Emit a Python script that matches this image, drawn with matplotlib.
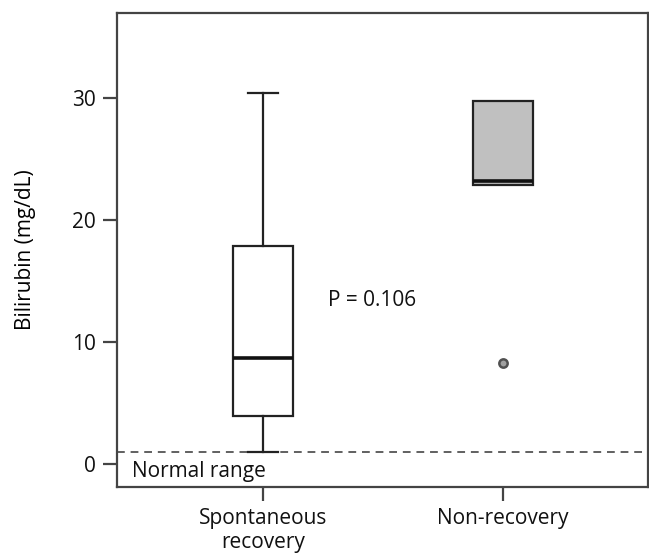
import matplotlib
matplotlib.use("Agg")
import matplotlib.pyplot as plt

# box summary values (mg/dL)
groups = ["Spontaneous\nrecovery", "Non-recovery"]
q1 = [3.95, 22.85]
median = [8.7, 23.25]
q3 = [17.9, 29.8]
whislo = [1.0, 22.85]
whishi = [30.4, 29.8]
fliers = [[], [8.3]]
box_colors = ["white", "#c0c0c0"]

normal_upper = 1.0
p_text = "P = 0.106"

plt.rcParams["font.family"] = ["Open Sans", "DejaVu Sans"]
fs = 15

fig = plt.figure(figsize=(6.49, 5.55), dpi=100)
ax = fig.add_axes([0.180, 0.1225, 0.8185, 0.854])

stats = []
for i in range(len(groups)):
    stats.append({"med": median[i], "q1": q1[i], "q3": q3[i],
                  "whislo": whislo[i], "whishi": whishi[i],
                  "fliers": fliers[i], "label": groups[i]})

bp = ax.bxp(stats, positions=[1, 2], widths=0.25, patch_artist=True,
            showcaps=True,
            boxprops=dict(edgecolor="#222222", linewidth=1.6),
            medianprops=dict(color="#111111", linewidth=2.6),
            whiskerprops=dict(color="#222222", linewidth=1.6),
            capprops=dict(color="#222222", linewidth=1.6),
            flierprops=dict(marker="o", markersize=6, markerfacecolor="#a0a0a0",
                            markeredgecolor="#505050", markeredgewidth=1.8))
for patch, c in zip(bp["boxes"], box_colors):
    patch.set_facecolor(c)
# hide caps where whisker equals box edge
for i in range(len(groups)):
    if whislo[i] == q1[i]:
        bp["caps"][2 * i].set_visible(False)
    if whishi[i] == q3[i]:
        bp["caps"][2 * i + 1].set_visible(False)

ax.axhline(normal_upper, color="#606060", linestyle=(0, (4, 3)), linewidth=1.4, zorder=0)
ax.text(0.454, -0.6, "Normal range", fontsize=fs, va="center", ha="left", color="#111111")
ax.text(1.27, 13.4, p_text, fontsize=fs, va="center", ha="left", color="#111111")

ax.set_xlim(0.392, 2.604)
ax.set_ylim(-1.9, 37.0)
ax.set_yticks([0, 10, 20, 30])
ax.set_ylabel("Bilirubin (mg/dL)", fontsize=fs, labelpad=26)

for s in ax.spines.values():
    s.set_color("#444444")
    s.set_linewidth(1.6)
ax.tick_params(axis="both", length=10, width=1.6, color="#444444",
               labelsize=fs, labelcolor="#111111", pad=5)

fig.savefig("out.png", dpi=100)
